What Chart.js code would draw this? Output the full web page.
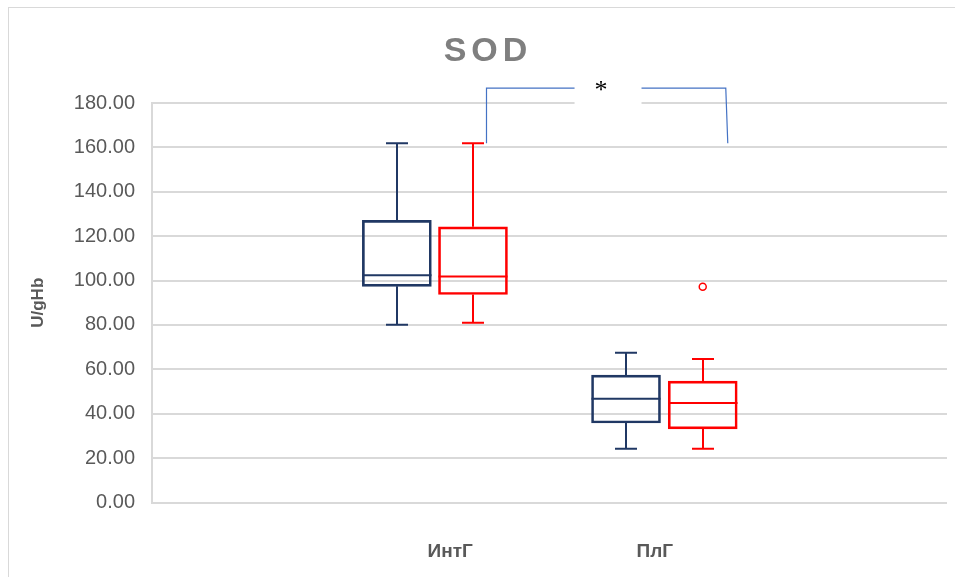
<!DOCTYPE html>
<html>
<head>
<meta charset="utf-8">
<script src="https://cdn.jsdelivr.net/npm/chart.js@4.4.1/dist/chart.umd.min.js"></script>
<style>
  html, body { margin: 0; padding: 0; background: #fff; }
  #wrap { width: 955px; height: 577px; }
</style>
</head>
<body>
<div id="wrap"><canvas id="myChart" width="955" height="577"></canvas></div>
<script>
"use strict";

// категории и их место на скрытой оси x
const categories = ["ИнтГ", "ПлГ"];
const categoryPos = [1.5, 2.53];

// синяя серия: позиции и пятичисловая сводка
const bluePos = [1.232, 2.385];
const blueMin = [80.1, 24.2];
const blueQ1 = [97.4, 35.8];
const blueMed = [102.4, 46.7];
const blueQ3 = [127.1, 57.4];
const blueMax = [161.9, 67.5];

// красная серия
const redPos = [1.615, 2.771];
const redMin = [81.0, 24.2];
const redQ1 = [93.7, 33.2];
const redMed = [101.8, 44.8];
const redQ3 = [124.2, 54.7];
const redMax = [161.9, 64.6];
const redOutlier = [null, 97.2];

// ось y
const yTicks = [0, 20, 40, 60, 80, 100, 120, 140, 160, 180];

// скобка значимости (в единицах осей)
const bracketX = [1.683, 2.897];
const bracketY = [161.9, 186.7];
const bracketGap = [2.126, 2.463];

const BLUE = "#203864";
const RED = "#ff0000";

function boxData(pos, q1, q3) {
    return pos.map((x, i) => ({ x: x, y: [q1[i], q3[i]] }));
}

const outlierData = [];
redOutlier.forEach((v, i) => { if (v !== null) outlierData.push({ x: redPos[i], y: v }); });

const boxes = [
    { pos: bluePos, min: blueMin, q1: blueQ1, med: blueMed, q3: blueQ3, max: blueMax, color: BLUE },
    { pos: redPos, min: redMin, q1: redQ1, med: redMed, q3: redQ3, max: redMax, color: RED }
];

// усы, медианы, рамка, заголовок и скобка
const boxPlugin = {
    id: "boxWhiskers",
    beforeDraw(chart) {
        const ctx = chart.ctx;
        ctx.save();
        ctx.strokeStyle = "#d9d9d9";
        ctx.lineWidth = 1;
        ctx.strokeRect(8.5, 7.5, 1200, 1200);
        ctx.restore();
    },
    afterDatasetsDraw(chart) {
        const ctx = chart.ctx;
        const xs = chart.scales.x, ys = chart.scales.y;
        ctx.save();
        ctx.lineWidth = 2;
        boxes.forEach(b => {
            ctx.strokeStyle = b.color;
            b.pos.forEach((p, i) => {
                const x = Math.round(xs.getPixelForValue(p));
                const half = 34.5;
                const cap = 11;
                ctx.beginPath();
                ctx.moveTo(x, ys.getPixelForValue(b.max[i]));
                ctx.lineTo(x, ys.getPixelForValue(b.q3[i]));
                ctx.moveTo(x, ys.getPixelForValue(b.q1[i]));
                ctx.lineTo(x, ys.getPixelForValue(b.min[i]));
                ctx.moveTo(x - cap, ys.getPixelForValue(b.max[i]));
                ctx.lineTo(x + cap, ys.getPixelForValue(b.max[i]));
                ctx.moveTo(x - cap, ys.getPixelForValue(b.min[i]));
                ctx.lineTo(x + cap, ys.getPixelForValue(b.min[i]));
                ctx.moveTo(x - half, ys.getPixelForValue(b.med[i]));
                ctx.lineTo(x + half, ys.getPixelForValue(b.med[i]));
                ctx.stroke();
            });
        });
        ctx.restore();
    },
    afterDraw(chart) {
        const ctx = chart.ctx;
        const xs = chart.scales.x, ys = chart.scales.y;
        // скобка
        ctx.save();
        ctx.strokeStyle = "#4472c4";
        ctx.lineWidth = 1.2;
        const x1 = xs.getPixelForValue(bracketX[0]), x2 = xs.getPixelForValue(bracketX[1]);
        const yb = ys.getPixelForValue(bracketY[0]), yt = ys.getPixelForValue(bracketY[1]);
        ctx.beginPath();
        ctx.moveTo(x1, yb);
        ctx.lineTo(x1, yt);
        ctx.lineTo(x2 - 2, yt);
        ctx.lineTo(x2, yb);
        ctx.stroke();
        const g1 = xs.getPixelForValue(bracketGap[0]), g2 = xs.getPixelForValue(bracketGap[1]);
        ctx.fillStyle = "#ffffff";
        ctx.fillRect(g1, yt - 14, g2 - g1, 32);
        ctx.fillStyle = "#000000";
        ctx.font = '26px "Liberation Serif"';
        ctx.textAlign = "center";
        ctx.textBaseline = "middle";
        ctx.fillText("*", (g1 + g2) / 2 - 7, yt + 3);
        // заголовок
        ctx.font = 'bold 34px "Liberation Sans"';
        ctx.fillStyle = "#7f7f7f";
        ctx.letterSpacing = "5px";
        ctx.textAlign = "center";
        ctx.textBaseline = "middle";
        ctx.fillText("SOD", 488, 52);
        ctx.restore();
    }
};

const ctx = document.getElementById("myChart").getContext("2d");
const myChart = new Chart(ctx, {
    type: "bar",
    data: {
        datasets: [
            {
                label: "blue",
                data: boxData(bluePos, blueQ1, blueQ3),
                borderColor: BLUE,
                backgroundColor: "rgba(0,0,0,0)",
                borderWidth: 2,
                borderSkipped: false,
                barThickness: 69,
                grouped: false
            },
            {
                label: "red",
                data: boxData(redPos, redQ1, redQ3),
                borderColor: RED,
                backgroundColor: "rgba(0,0,0,0)",
                borderWidth: 2,
                borderSkipped: false,
                barThickness: 69,
                grouped: false
            },
            {
                type: "scatter",
                label: "outliers",
                data: outlierData,
                pointStyle: "circle",
                pointRadius: 3.5,
                pointBorderWidth: 1.5,
                borderColor: RED,
                backgroundColor: "#ffffff"
            }
        ]
    },
    options: {
        responsive: false,
        animation: false,
        layout: { padding: { top: 103, right: 8, left: 0, bottom: 0 } },
        plugins: {
            legend: { display: false },
            tooltip: { enabled: false },
            title: { display: false }
        },
        scales: {
            x: {
                type: "linear",
                min: 0,
                max: 4,
                offset: false,
                grid: { display: false, drawTicks: false },
                border: { display: false },
                afterBuildTicks: axis => { axis.ticks = categoryPos.map(v => ({ value: v })); },
                afterFit: axis => { axis.height = 74.5; },
                ticks: {
                    padding: 38,
                    maxRotation: 0,
                    autoSkip: false,
                    color: "#595959",
                    font: { family: '"Liberation Sans Narrow", "Liberation Sans"', size: 19, weight: "bold" },
                    callback: (v, i) => categories[i]
                }
            },
            y: {
                min: 0,
                max: 180,
                afterBuildTicks: axis => { axis.ticks = yTicks.map(v => ({ value: v })); },
                afterFit: axis => { axis.width = 152; },
                grid: { color: "#d9d9d9", lineWidth: 2, drawTicks: false },
                border: { display: true, color: "#d9d9d9", width: 2 },
                ticks: {
                    padding: 17,
                    color: "#595959",
                    font: { family: '"Liberation Sans"', size: 20 },
                    callback: v => v.toFixed(2)
                },
                title: {
                    display: true,
                    text: "U/gHb",
                    color: "#595959",
                    padding: { top: 28, bottom: 0 },
                    font: { family: '"Liberation Sans"', size: 17, weight: "bold" }
                }
            }
        }
    },
    plugins: [boxPlugin]
});
</script>
</body>
</html>
